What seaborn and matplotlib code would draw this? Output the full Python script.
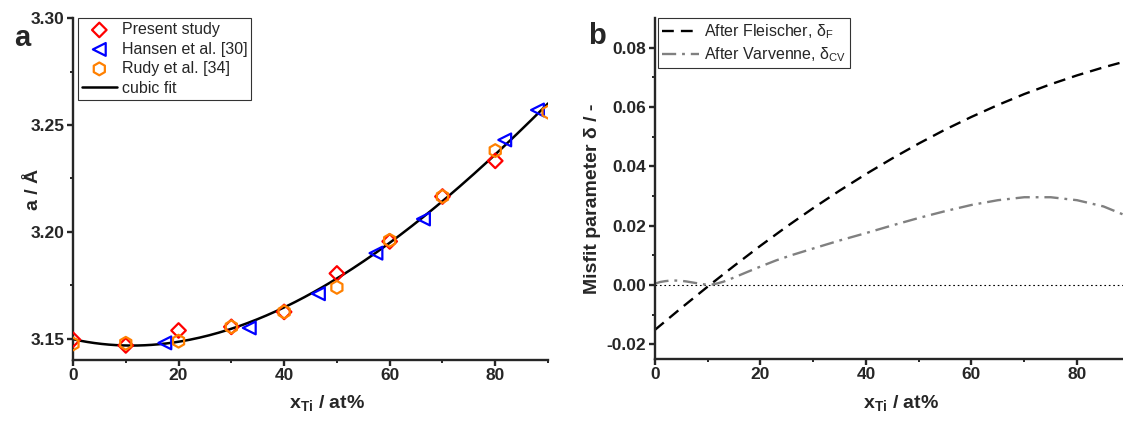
import matplotlib
matplotlib.use("Agg")
import matplotlib.pyplot as plt
import numpy as np
import pandas as pd
import seaborn as sns

# Lattice parameter data (panel a)
present_x = [0, 10, 20, 30, 40, 50, 60, 70, 80]
present_a = [3.1495, 3.1468, 3.1538, 3.1555, 3.1625, 3.1805, 3.1955, 3.2165, 3.2332]

hansen_x = [17.4, 33.4, 46.5, 57.4, 66.4, 81.8, 88.0]
hansen_a = [3.1480, 3.1550, 3.1710, 3.1900, 3.2060, 3.2430, 3.2570]

rudy_x = [0, 10, 20, 30, 40, 50, 60, 70, 80, 90]
rudy_a = [3.1475, 3.1478, 3.1488, 3.1555, 3.1625, 3.1740, 3.1960, 3.2165, 3.2380, 3.2560]

# Misfit parameter curves (panel b)
fleischer_x = [0, 5, 10, 15, 20, 25, 30, 35, 40, 45, 50, 55, 60, 65, 70, 75, 80, 85, 88.7]
fleischer = [-0.0152, -0.0078, -0.0006, 0.0064, 0.0132, 0.0197, 0.0259, 0.0318, 0.0374,
             0.0427, 0.0477, 0.0524, 0.0567, 0.0607, 0.0644, 0.0677, 0.0707, 0.0734, 0.0752]

varvenne_x = [0, 1, 2, 3, 4, 5, 6, 7, 8, 9, 10, 11, 12, 13, 15, 17, 20, 23, 26, 30,
              35, 40, 45, 50, 55, 60, 65, 70, 75, 80, 85, 88.7]
varvenne = [0.0004, 0.0010, 0.0013, 0.0015, 0.0015, 0.0014, 0.0012, 0.0009, 0.0006, 0.0003,
            0.0001, 0.0002, 0.0006, 0.0011, 0.0025, 0.0040, 0.0062, 0.0083, 0.0101, 0.0123,
            0.0150, 0.0175, 0.0201, 0.0226, 0.0249, 0.0270, 0.0286, 0.0296, 0.0296, 0.0286,
            0.0265, 0.0238]

RED = "#FF0000"
BLUE = "#0000FF"
ORANGE = "#FF8000"
GRAY = "#808080"

sns.set_style("ticks")
plt.rcParams["font.family"] = ["Liberation Sans", "DejaVu Sans"]
plt.rcParams["mathtext.fontset"] = "custom"
plt.rcParams["mathtext.rm"] = "Liberation Sans"
plt.rcParams["mathtext.bf"] = "Liberation Sans:bold"
plt.rcParams["mathtext.it"] = "Liberation Sans:italic"

TICK_FS = 12.5
LABEL_FS = 14
LEG_FS = 11.5

fig = plt.figure(figsize=(11.23, 4.22), dpi=100)
ax1 = fig.add_axes([0.065, 0.147, 0.423, 0.810])
ax2 = fig.add_axes([0.583, 0.149, 0.417, 0.808])

# cubic fit through all lattice data
all_x = np.array(present_x + hansen_x + rudy_x, dtype=float)
all_a = np.array(present_a + hansen_a + rudy_a, dtype=float)
coef = np.polyfit(all_x, all_a, 3)
fit_df = pd.DataFrame({"x": np.linspace(0, 90, 200)})
fit_df["a"] = np.polyval(coef, fit_df["x"])

sns.lineplot(data=fit_df, x="x", y="a", color="black", linewidth=1.8, ax=ax1,
             label="cubic fit", zorder=2)
sns.scatterplot(x=present_x, y=present_a, marker="D", s=55, facecolors="none",
                edgecolors=RED, linewidth=1.6, ax=ax1, label="Present study", zorder=3)
sns.scatterplot(x=hansen_x, y=hansen_a, marker="<", s=85, facecolors="none",
                edgecolors=BLUE, linewidth=1.6, ax=ax1, label="Hansen et al. [30]", zorder=3)
sns.scatterplot(x=rudy_x, y=rudy_a, marker="h", s=85, facecolors="none",
                edgecolors=ORANGE, linewidth=1.6, ax=ax1, label="Rudy et al. [34]", zorder=3)

handles, labels = ax1.get_legend_handles_labels()
order = [labels.index(l) for l in ["Present study", "Hansen et al. [30]", "Rudy et al. [34]", "cubic fit"]]
leg = ax1.legend([handles[i] for i in order], [labels[i] for i in order],
                 loc="upper left", bbox_to_anchor=(0.01, 1.0), fontsize=LEG_FS,
                 frameon=True, fancybox=False, edgecolor="black", borderaxespad=0.0,
                 handlelength=2.2, handletextpad=0.3, labelspacing=0.28, borderpad=0.25)
leg.get_frame().set_linewidth(0.8)

ax1.set_xlim(0, 90)
ax1.set_ylim(3.14, 3.30)
ax1.set_xticks([0, 20, 40, 60, 80])
ax1.set_xticks(np.arange(10, 100, 20), minor=True)
ax1.set_yticks([3.15, 3.20, 3.25, 3.30])
ax1.set_yticks([3.175, 3.225, 3.275], minor=True)
ax1.set_yticklabels(["3.15", "3.20", "3.25", "3.30"])
ax1.set_xlabel(r"x$_\mathbf{Ti}$ / at%", fontsize=LABEL_FS, fontweight="bold")
ax1.set_ylabel("a / Å", fontsize=LABEL_FS, fontweight="bold")
ax1.xaxis.set_label_coords(0.535, -0.098)
ax1.yaxis.set_label_coords(-0.065, 0.5)

# panel b
ax2.axhline(0, color="black", linestyle=(0, (1.5, 2.5)), linewidth=0.8, zorder=1)
sns.lineplot(x=fleischer_x, y=fleischer, color="black", linewidth=1.7,
             linestyle=(0, (5, 3)), ax=ax2, label=r"After Fleischer, δ$_\mathrm{F}$")
sns.lineplot(x=varvenne_x, y=varvenne, color=GRAY, linewidth=1.7,
             linestyle=(0, (6, 2.5, 1.2, 2.5)), ax=ax2, label=r"After Varvenne, δ$_\mathrm{CV}$")
leg2 = ax2.legend(loc="upper left", bbox_to_anchor=(0.008, 1.0), fontsize=LEG_FS,
                  frameon=True, fancybox=False, edgecolor="black", borderaxespad=0.0,
                  handlelength=2.3, handletextpad=0.3, labelspacing=0.3, borderpad=0.25)
leg2.get_frame().set_linewidth(0.8)

ax2.set_xlim(0, 88.7)
ax2.set_ylim(-0.025, 0.09)
ax2.set_xticks([0, 20, 40, 60, 80])
ax2.set_xticks([10, 30, 50, 70], minor=True)
ax2.set_yticks([-0.02, 0.0, 0.02, 0.04, 0.06, 0.08])
ax2.set_yticks([-0.01, 0.01, 0.03, 0.05, 0.07], minor=True)
ax2.set_yticklabels(["-0.02", "0.00", "0.02", "0.04", "0.06", "0.08"])
ax2.set_xlabel(r"x$_\mathbf{Ti}$ / at%", fontsize=LABEL_FS, fontweight="bold")
ax2.set_ylabel("Misfit parameter δ / -", fontsize=LABEL_FS, fontweight="bold")
ax2.xaxis.set_label_coords(0.525, -0.098)
ax2.yaxis.set_label_coords(-0.115, 0.47)

for ax in (ax1, ax2):
    sns.despine(ax=ax)
    for s in ("left", "bottom"):
        ax.spines[s].set_linewidth(1.7)
    ax.tick_params(which="major", length=4, width=1.7, labelsize=TICK_FS, pad=2)
    ax.tick_params(which="minor", length=2.5, width=1.4)
    for lbl in ax.get_xticklabels() + ax.get_yticklabels():
        lbl.set_fontweight("bold")

fig.text(0.020, 0.89, "a", fontsize=21, fontweight="bold", ha="center", va="baseline")
fig.text(0.532, 0.895, "b", fontsize=21, fontweight="bold", ha="center", va="baseline")

fig.savefig("out.png", dpi=100)
